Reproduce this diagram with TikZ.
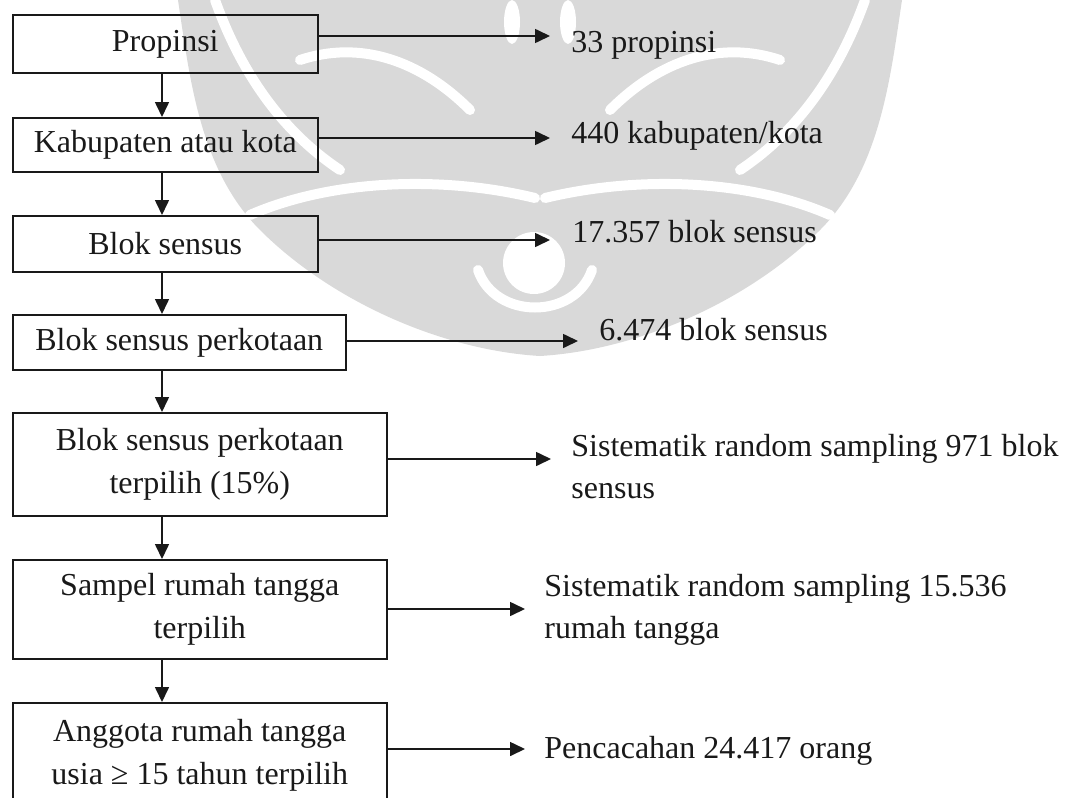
\documentclass[tikz,border=0pt]{standalone}
\usepackage{fontspec}
\setmainfont{Liberation Serif}
\usetikzlibrary{arrows.meta}
\begin{document}
\begin{tikzpicture}[x=0.5pt,y=-0.5pt,
  stagebox/.style={draw=black!90, line width=1pt, inner sep=0pt, align=center,
    text=black!90, font=\fontsize{16}{21.5}\selectfont},
  note/.style={inner sep=0pt, align=left, text=black!90,
    font=\fontsize{16}{21}\selectfont},
  flow/.style={draw=black!90, line width=0.8pt,
    -{Triangle[length=7.5pt,width=7pt]}},
  wm/.style={fill=black!15},
  wmgap/.style={draw=white, line width=5pt, line cap=round}]
\useasboundingbox (0,0) rectangle (1068,797);

% faint emblem in the background
\fill[wm] (178,0) .. controls (190,80) and (200,170) .. (260,230)
  .. controls (330,300) and (440,350) .. (540,356)
  .. controls (640,350) and (750,300) .. (820,230)
  .. controls (880,170) and (890,80) .. (902,0) -- cycle;
\draw[wmgap] (215,0) .. controls (240,70) and (280,130) .. (340,170);
\draw[wmgap] (865,0) .. controls (840,70) and (800,130) .. (740,170);
\draw[wmgap] (250,215) .. controls (330,180) and (440,175) .. (535,198);
\draw[wmgap] (830,215) .. controls (750,180) and (640,175) .. (545,198);
\draw[wmgap] (300,60) .. controls (360,40) and (420,60) .. (470,110);
\draw[wmgap] (780,60) .. controls (720,40) and (660,60) .. (610,110);
\fill[white] (534,263) circle[radius=31];
\draw[wmgap] (478,270) .. controls (495,320) and (575,320) .. (592,270);
\fill[white] (512,22) ellipse[x radius=8, y radius=22];
\fill[white] (568,22) ellipse[x radius=8, y radius=22];

% stages of the sampling
\node[stagebox, minimum width=152.75pt, minimum height=29pt] (b1) at (165.25,44) {Propinsi};
\node[stagebox, minimum width=152.75pt, minimum height=27pt] (b2) at (165.25,145) {Kabupaten atau kota};
\node[stagebox, minimum width=152.75pt, minimum height=28pt] (b3) at (165.25,244) {Blok sensus};
\node[stagebox, minimum width=166.75pt, minimum height=27.5pt] (b4) at (179.25,342.5) {Blok sensus perkotaan};
\node[stagebox, minimum width=187.25pt, minimum height=51.5pt] (b5) at (199.75,464.5) {Blok sensus perkotaan\\terpilih (15\%)};
\node[stagebox, minimum width=187.25pt, minimum height=49.5pt] (b6) at (199.75,609.5) {Sampel rumah tangga\\terpilih};
\node[stagebox, minimum width=187.25pt, minimum height=52.5pt] (b7) at (199.75,755.5) {Anggota rumah tangga\\usia ≥ 15 tahun terpilih};

% vertical flow
\coordinate (vx) at (162,0);
\draw[flow] (b1.south -| vx) -- (b2.north -| vx);
\draw[flow] (b2.south -| vx) -- (b3.north -| vx);
\draw[flow] (b3.south -| vx) -- (b4.north -| vx);
\draw[flow] (b4.south -| vx) -- (b5.north -| vx);
\draw[flow] (b5.south -| vx) -- (b6.north -| vx);
\draw[flow] (b6.south -| vx) -- (b7.north -| vx);

% results of each stage
\node[note, anchor=base west] (n1) at (571,53) {33 propinsi};
\node[note, anchor=base west] (n2) at (571,143) {440 kabupaten/kota};
\node[note, anchor=base west] (n3) at (572,242) {17.357 blok sensus};
\node[note, anchor=base west] (n4) at (599,340) {6.474 blok sensus};
\node[note, anchor=west] (n5) at (571,467) {Sistematik random sampling 971 blok\\sensus};
\node[note, anchor=west] (n6) at (544,610) {Sistematik random sampling 15.536\\rumah tangga};
\node[note, anchor=base west] (n7) at (544,758) {Pencacahan 24.417 orang};

\coordinate (t1) at (550,36);
\coordinate (t2) at (550,138);
\coordinate (t3) at (550,240);
\coordinate (t4) at (578,341);
\coordinate (t5) at (551,459);
\coordinate (t6) at (525,609);
\coordinate (t7) at (525,749);
\draw[flow] (b1.east |- t1) -- (t1);
\draw[flow] (b2.east |- t2) -- (t2);
\draw[flow] (b3.east |- t3) -- (t3);
\draw[flow] (b4.east |- t4) -- (t4);
\draw[flow] (b5.east |- t5) -- (t5);
\draw[flow] (b6.east |- t6) -- (t6);
\draw[flow] (b7.east |- t7) -- (t7);
\end{tikzpicture}
\end{document}
